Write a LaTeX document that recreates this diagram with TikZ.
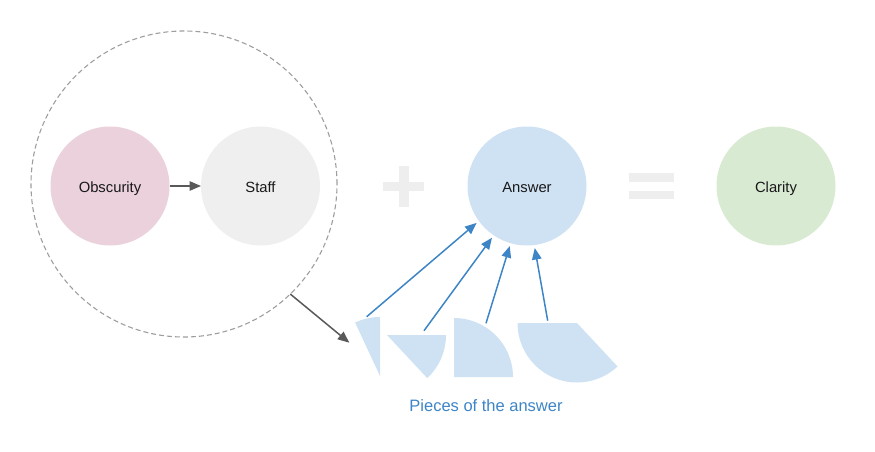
\documentclass[tikz,border=0pt]{standalone}
\usepackage{fontspec}
\setmainfont{Liberation Sans}
\usetikzlibrary{arrows.meta}
\definecolor{obsc}{HTML}{EAD1DC}
\definecolor{staffc}{HTML}{EFEFEF}
\definecolor{ansc}{HTML}{CFE2F3}
\definecolor{clarc}{HTML}{D9EAD3}
\definecolor{arrblue}{HTML}{3D85C6}
\definecolor{arrgray}{HTML}{595959}
\definecolor{dashgray}{HTML}{9E9E9E}
\definecolor{opgray}{HTML}{EEEEEE}
\tikzset{
  bubble/.style={circle,minimum size=119pt,inner sep=0pt,outer sep=0pt,font=\fontsize{14.8}{16}\selectfont,text=black!90,text height=12.6pt,text depth=0pt},
  bluearrow/.style={draw=arrblue,line width=1.5pt,-{Triangle[length=11.5pt,width=9.5pt]},shorten >=3pt},
  grayarrow/.style={draw=arrgray,line width=1.5pt,-{Triangle[length=11.5pt,width=9.5pt]}},
  piece/.style={fill=ansc,draw=none},
  opbar/.style={fill=opgray,draw=none}
}
\begin{document}
\begin{tikzpicture}[x=1pt,y=1pt]
\useasboundingbox (0,0) rectangle (875,451);
% group circle
\node[circle,minimum size=306pt,inner sep=0pt,outer sep=0pt,draw=dashgray,line width=1.1pt,dash pattern=on 5pt off 3pt] (grp) at (184,267) {};
% bubbles
\node[bubble,fill=obsc] (obs) at (110,265) {Obscurity};
\node[bubble,fill=staffc] (staff) at (260.5,265) {Staff};
\node[bubble,fill=ansc] (ans) at (527,265) {Answer};
\node[bubble,fill=clarc] (clar) at (776,265) {Clarity};
% plus and equals
\fill[opbar] (383,260) rectangle (424,269.5);
\fill[opbar] (399,244) rectangle (408.5,285.5);
\fill[opbar] (629,269.3) rectangle (674,277.7);
\fill[opbar] (629,251.7) rectangle (674,260);
% pieces
\fill[piece] (380,75) -- ++(90:59) arc[start angle=90,end angle=115,radius=59] -- cycle;
\fill[piece] (387,116) -- ++(0:59) arc[start angle=0,end angle=-47,radius=59] -- cycle;
\fill[piece] (454,74) -- ++(0:59) arc[start angle=0,end angle=90,radius=59] -- cycle;
\fill[piece] (577,128) -- ++(180:59.5) arc[start angle=180,end angle=313,radius=59.5] -- cycle;
% coordinates
\coordinate (p1) at (366.7,134.3);
\coordinate (p2) at (424,120.3);
\coordinate (p3) at (486,127.7);
\coordinate (p4) at (547.7,130.3);
\coordinate (pc) at (349.3,108.3);
% arrows
\draw[grayarrow] (obs) -- (staff);
\draw[grayarrow] (grp.-46) -- (pc);
\draw[bluearrow] (p1) -- (ans.216.6);
\draw[bluearrow] (p2) -- (ans.236.8);
\draw[bluearrow] (p3) -- (ans.254.8);
\draw[bluearrow] (p4) -- (ans.277.5);
% label
\node[anchor=base,text=arrblue,font=\fontsize{16.5}{18}\selectfont,inner sep=0pt] (lbl) at (486,39.3) {Pieces of the answer};
\end{tikzpicture}
\end{document}
